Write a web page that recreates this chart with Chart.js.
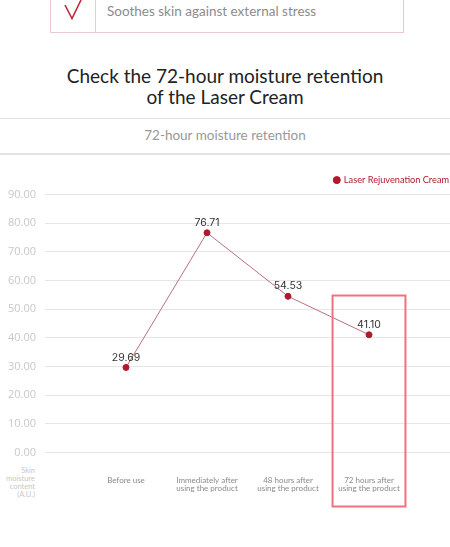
<!DOCTYPE html>
<html>
<head>
<meta charset="utf-8">
<script src="https://cdn.jsdelivr.net/npm/chart.js@4"></script>
<style>
  html, body { margin: 0; padding: 0; background: #fff; }
  body { width: 450px; height: 547px; position: relative; overflow: hidden; font-family: Lato, "Noto Sans", sans-serif; }
  .topbox { position: absolute; left: 50px; top: -30px; width: 352px; height: 61px; border: 1px solid #e8c9ce; }
  .divider { position: absolute; left: 95px; top: 0; width: 1px; height: 32px; background: #e8c9ce; }
  .check { position: absolute; left: 60px; top: 0; }
  .feature { position: absolute; left: 107px; top: 3px; font-size: 13.5px; color: #8c8c8c; white-space: nowrap; }
  .title { position: absolute; left: 0; top: 65px; width: 450px; text-align: center; font-size: 19px; line-height: 21px; color: #222; }
  .hline { position: absolute; left: 0; width: 450px; height: 1.5px; background: #e2e2e2; }
  .subtitle { position: absolute; left: 0; top: 127px; width: 450px; text-align: center; font-size: 13.5px; color: #999; }
  .ytitle { position: absolute; left: 0; top: 467px; width: 35px; text-align: right; font-size: 7.5px; line-height: 8px; color: #c8c8c8; }
  .wrap { position: absolute; left: 0; top: 160px; width: 450px; height: 387px; }
</style>
</head>
<body>
<div class="topbox"></div>
<div class="divider"></div>
<svg class="check" width="26" height="22"><path d="M5 5 L12 18.5 L21 0" fill="none" stroke="#c0283a" stroke-width="1.6"/></svg>
<div class="feature">Soothes skin against external stress</div>
<div class="title">Check the 72-hour moisture retention<br>of the Laser Cream</div>
<div class="hline" style="top:117.5px"></div>
<div class="subtitle">72-hour moisture retention</div>
<div class="hline" style="top:153px"></div>
<div class="ytitle">Skin<br>moisture<br>content<br>(A.U.)</div>
<div class="wrap"><canvas id="c"></canvas></div>
<script>
const categories = [
  ["Before use"],
  ["Immediately after", "using the product"],
  ["48 hours after", "using the product"],
  ["72 hours after", "using the product"]
];
const seriesName = "Laser Rejuvenation Cream";
const moistureValues = [29.69, 76.71, 54.53, 41.10];
const yTicks = [0, 10, 20, 30, 40, 50, 60, 70, 80, 90];
const highlightIndex = 3;

const paddedLabels = [""].concat(categories, [""]);
const paddedData = [null].concat(moistureValues, [null]);

const valueLabels = {
  id: "valueLabels",
  afterDatasetsDraw(chart) {
    const ctx = chart.ctx;
    const meta = chart.getDatasetMeta(0);
    ctx.save();
    ctx.font = "10.5px Inter, 'Open Sans', sans-serif";
    ctx.fillStyle = "#333";
    ctx.textAlign = "center";
    ctx.textBaseline = "middle";
    meta.data.forEach((pt, i) => {
      const v = paddedData[i];
      if (v === null) return;
      ctx.fillText(v.toFixed(2), pt.x, pt.y - 10);
    });
    ctx.restore();
  }
};

const highlightBox = {
  id: "highlightBox",
  afterDatasetsDraw(chart) {
    const x = chart.scales.x, y = chart.scales.y;
    const cx = x.getPixelForValue(highlightIndex + 1);
    const half = (x.getPixelForValue(1) - x.getPixelForValue(0)) * 0.45;
    const top = y.getPixelForValue(54.8);
    const bottom = chart.chartArea.bottom + 54;
    const ctx = chart.ctx;
    ctx.save();
    ctx.strokeStyle = "#f2707f";
    ctx.lineWidth = 2;
    ctx.strokeRect(cx - half, top, half * 2, bottom - top);
    ctx.restore();
  }
};

new Chart(document.getElementById("c"), {
  type: "line",
  data: {
    labels: paddedLabels,
    datasets: [{
      label: seriesName,
      data: paddedData,
      borderColor: "#b8707c",
      borderWidth: 1,
      pointBackgroundColor: "#b3192c",
      pointBorderColor: "#b3192c",
      pointRadius: 3,
      pointHoverRadius: 3,
      spanGaps: false,
      tension: 0
    }]
  },
  options: {
    responsive: true,
    maintainAspectRatio: false,
    animation: false,
    layout: { autoPadding: false, padding: { top: 14.5, bottom: 34.5, left: 0, right: 0 } },
    plugins: {
      legend: {
        position: "top",
        align: "end",
        labels: {
          usePointStyle: true,
          pointStyle: "circle",
          boxWidth: 5,
          boxHeight: 5,
          padding: 1,
          color: "#b3192c",
          font: { size: 9.2, family: "Lato, 'Noto Sans', sans-serif" }
        }
      },
      tooltip: { enabled: false }
    },
    scales: {
      x: {
        type: "category",
        offset: false,
        grid: { display: false, drawTicks: false },
        border: { display: false },
        ticks: {
          autoSkip: false,
          maxRotation: 0,
          padding: 24,
          color: "#8a8a8a",
          font: { size: 8, family: "Lato, 'Noto Sans', sans-serif", lineHeight: 1 }
        },
        afterFit(s) { s.height = 60; s.paddingLeft = 0; s.paddingRight = 0; }
      },
      y: {
        min: 0,
        max: 90,
        afterBuildTicks(s) { s.ticks = yTicks.map(v => ({ value: v })); },
        grid: { color: "#e6e6e6", lineWidth: 1, drawTicks: false },
        border: { display: false },
        ticks: {
          padding: 9,
          color: "#c8c8c8",
          font: { size: 11, family: "'Open Sans', sans-serif" },
          callback: v => Number(v).toFixed(2)
        },
        afterFit(s) { s.width = 45; }
      }
    }
  },
  plugins: [highlightBox, valueLabels]
});
</script>
</body>
</html>
